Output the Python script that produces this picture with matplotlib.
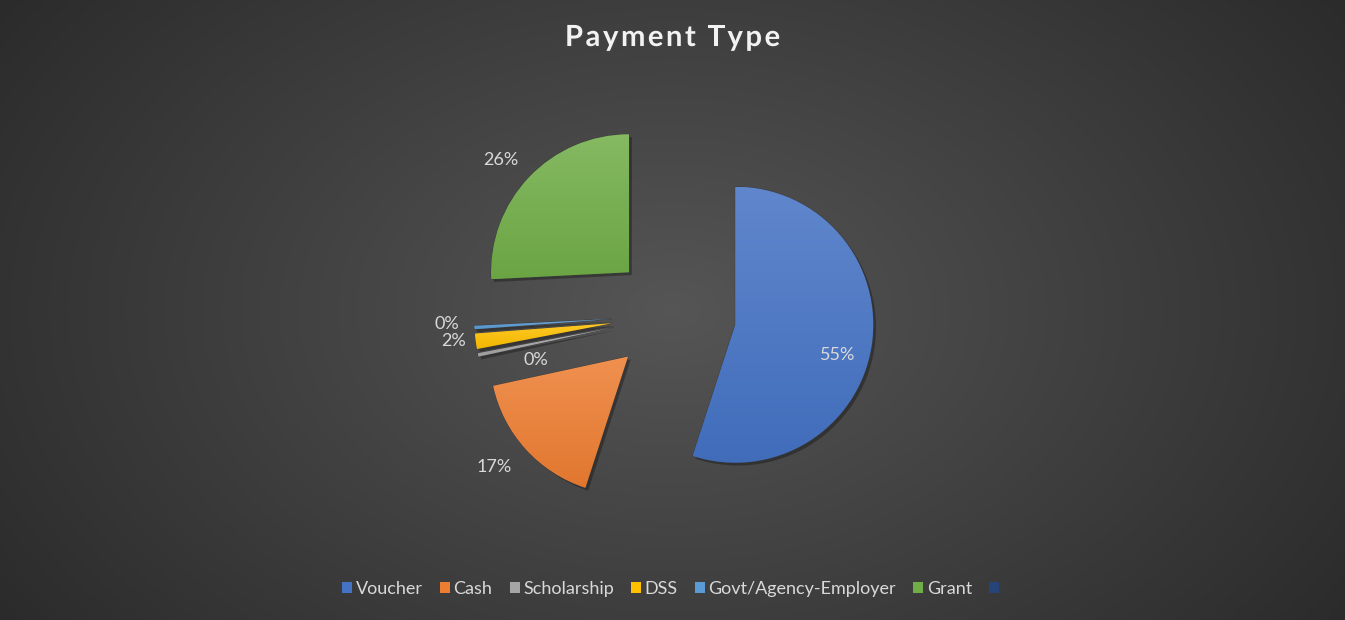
import matplotlib.pyplot as plt
import matplotlib.patheffects as pe
import numpy as np
from matplotlib.colors import to_rgb
from matplotlib.patches import Patch

# ---------------------------------------------------------------------------
# Data
# ---------------------------------------------------------------------------
categories = ["Voucher", "Cash", "Scholarship", "DSS", "Govt/Agency-Employer", "Grant", ""]
shares = [55.0, 16.6, 0.4, 1.8, 0.4, 25.8, 0.0]
labels = ["55%", "17%", "0%", "2%", "0%", "26%", ""]
colors = ["#4472C4", "#ED7D31", "#A5A5A5", "#FFC000", "#5B9BD5", "#70AD47", "#264478"]

# label anchor points, in image pixels (x right, y down)
label_xy = [(838, 355), (494, 467), (536, 360), (454, 341), (447, 324), (501, 160), None]

W, H = 1345, 620
FONT = ["Lato", "DejaVu Sans"]
R = 138          # pie radius, px
EXPLODE = 62     # offset of every slice, px (matplotlib uses data units)
TITLE = "Payment Type"


def lighten(c, f):
    r = np.array(to_rgb(c))
    return tuple(r + (1 - r) * f)


fig = plt.figure(figsize=(W / 100, H / 100), dpi=100)

# background: dark radial gradient
bg = fig.add_axes([0, 0, 1, 1])
yy, xx = np.mgrid[0:H, 0:W]
d = np.sqrt(((xx - W / 2) / (W * 0.62)) ** 2 + ((yy - H / 2) / (H * 0.9)) ** 2)
lvl = np.clip(0.335 - 0.17 * d, 0.155, 0.335)
bg.imshow(np.dstack([lvl, lvl, lvl]), extent=(0, W, 0, H), origin="upper", aspect="auto")
bg.set_axis_off()

ax = fig.add_axes([0, 0, 1, 1], facecolor="none")

wedges, _ = ax.pie(
    shares,
    colors=colors,
    startangle=90,
    counterclock=False,
    explode=[EXPLODE] * len(shares),
    radius=R,
    center=(674, H - 315),
    wedgeprops=dict(linewidth=0.6, edgecolor="#3a3a3a"),
)

# vertical gradient fill + soft shadow for each slice
grad = np.linspace(0, 1, 256).reshape(-1, 1)
for w, c, v in zip(wedges, colors, shares):
    if v == 0:
        w.set_visible(False)
        continue
    w.set_path_effects([pe.SimplePatchShadow(offset=(2, -2), alpha=0.3, shadow_rgbFace="black"), pe.Normal()])
    top = np.array(lighten(c, 0.15))
    bot = np.array(to_rgb(c)) * 0.95
    img = top[None, None, :] * (1 - grad[:, :, None]) + bot[None, None, :] * grad[:, :, None]
    x0, y0, bw, bh = w.get_path().get_extents(w.get_patch_transform()).bounds
    im = ax.imshow(img, extent=(x0, x0 + bw, y0, y0 + bh), origin="upper",
                   aspect="auto", zorder=w.get_zorder() + 0.1)
    im.set_clip_path(w)

ax.set_xlim(0, W)
ax.set_ylim(0, H)
ax.set_aspect("equal")
ax.set_axis_off()

for lab, xy in zip(labels, label_xy):
    if xy is None:
        continue
    ax.text(xy[0], H - xy[1], lab, ha="center", va="center", color="#d9d9d9",
            fontsize=13, family=FONT, zorder=10)

# title with wide letter spacing, laid out one glyph at a time
fig.canvas.draw()
renderer = fig.canvas.get_renderer()
tkw = dict(color="#f2f2f2", fontsize=21, fontweight="bold", family=FONT, va="center", ha="left",
           path_effects=[pe.withSimplePatchShadow(offset=(1, -1), alpha=0.5)])
track = 2.6
widths = []
for ch in TITLE:
    if ch == " ":
        widths.append(6.5)
        continue
    t = fig.text(0, 0, ch, **tkw)
    widths.append(t.get_window_extent(renderer).width)
    t.remove()
total = sum(widths) + track * (len(TITLE) - 1)
xpos = W / 2 - total / 2
for ch, wd in zip(TITLE, widths):
    if ch != " ":
        fig.text(xpos / W, 1 - 38 / H, ch, **tkw)
    xpos += wd + track

handles = [Patch(facecolor=c, edgecolor="none") for c in colors]
fig.legend(handles, categories, loc="center", bbox_to_anchor=(0.5, 1 - 589 / H), ncol=7,
           frameon=False, handlelength=0.55, handleheight=0.55, handletextpad=0.2,
           columnspacing=0.95, labelcolor="#d9d9d9", prop={"family": FONT, "size": 13})

fig.savefig("out.png", dpi=100)
